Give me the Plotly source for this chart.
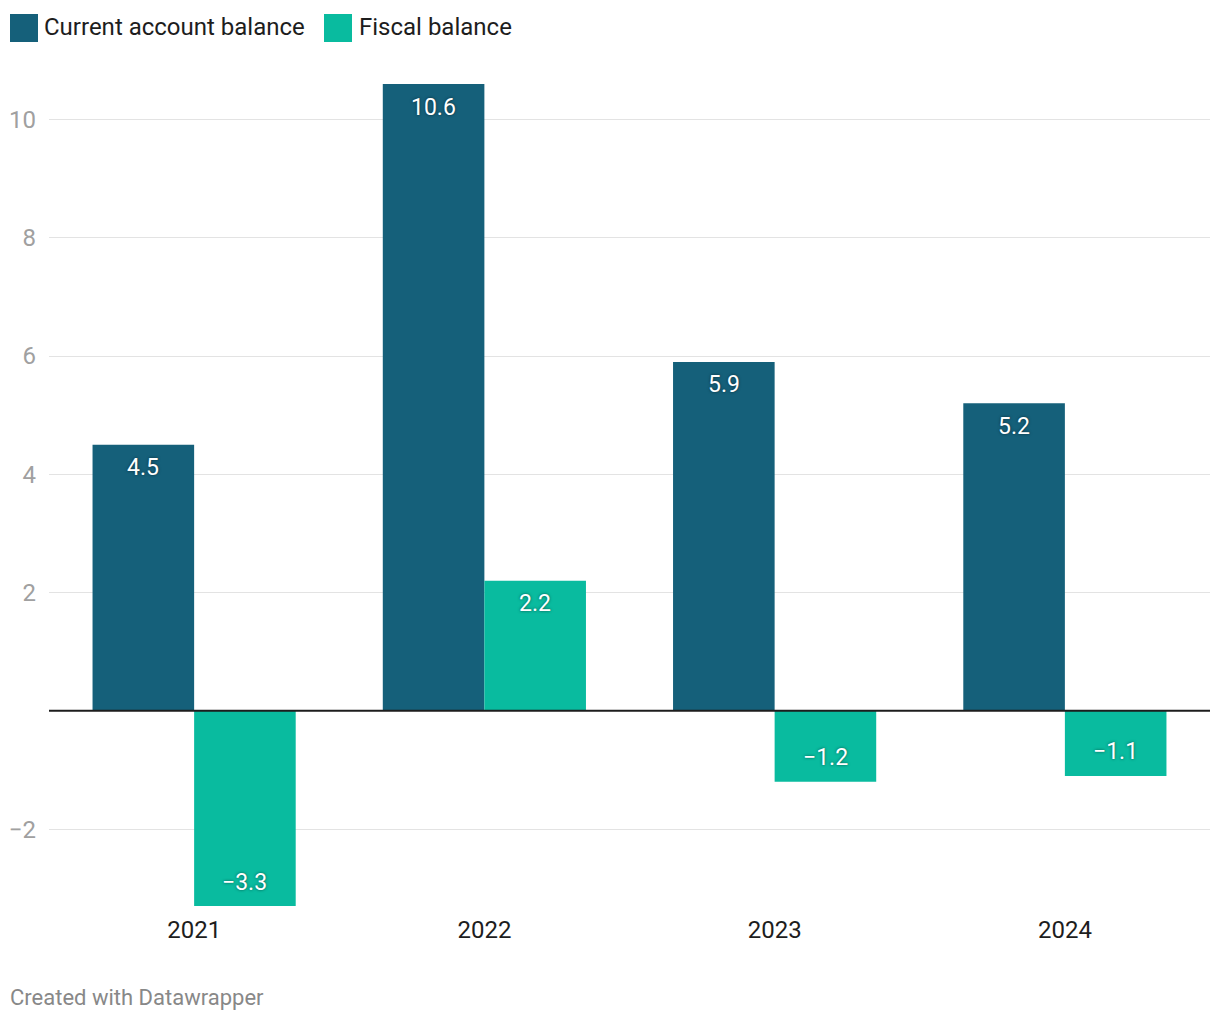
import plotly.graph_objects as go

years = ["2021", "2022", "2023", "2024"]
current_account = [4.5, 10.6, 5.9, 5.2]
fiscal = [-3.3, 2.2, -1.2, -1.1]
series_names = ["Current account balance", "Fiscal balance"]
colors = ["#15607a", "#09bb9f"]
y_ticks = [-2, 2, 4, 6, 8, 10]


def fmt(v):
    s = f"{v:.1f}"
    return s.replace("-", "\u2212")


W, H = 1220, 1020
ML, MR, MT, MB = 49, 10, 84, 114
PW, PH = W - ML - MR, H - MT - MB
BARGAP = 0.3
BAR_HALF = PW / len(years) * (1 - BARGAP) / 4


def px_x(p):
    return (p - ML) / PW


def px_y(p):
    return (H - MB - p) / PH


fig = go.Figure()
annotations = []
for i, (name, vals, col) in enumerate(zip(series_names, [current_account, fiscal], colors)):
    fig.add_trace(go.Bar(
        x=years, y=vals, name=name, marker=dict(color=col, line=dict(width=0)),
    ))
    for j, v in enumerate(vals):
        annotations.append(dict(
            x=j, y=v, xref="x", yref="y", text=fmt(v), showarrow=False,
            xshift=(-BAR_HALF if i == 0 else BAR_HALF),
            yshift=(-23 if v >= 0 else 24),
            xanchor="center", yanchor="middle",
            font=dict(color="white", size=23, family="Roboto",
                      shadow="0px 0px 3px rgba(0,0,0,0.55)"),
        ))

shapes = [dict(type="line", xref="paper", yref="y", x0=0, x1=1, y0=0, y1=0,
               line=dict(color="#1d1d1d", width=2), layer="above")]
# legend
leg = [(10, 44, series_names[0], colors[0]), (324, 359, series_names[1], colors[1])]
for sx, tx, name, col in leg:
    shapes.append(dict(type="rect", xref="paper", yref="paper",
                       x0=px_x(sx), x1=px_x(sx + 28), y0=px_y(42), y1=px_y(14),
                       fillcolor=col, line=dict(width=0)))
    annotations.append(dict(xref="paper", yref="paper", x=px_x(tx), y=px_y(27),
                            text=name, showarrow=False, xanchor="left", yanchor="middle",
                            xshift=-2,
                            font=dict(size=24, color="#1d1d1d", family="Roboto")))
annotations.append(dict(xref="paper", yref="paper", x=px_x(10), y=px_y(997),
                        text="Created with Datawrapper", showarrow=False,
                        xanchor="left", yanchor="middle", xshift=-2,
                        font=dict(size=22, color="#888888", family="Roboto")))

fig.update_layout(
    width=W, height=H,
    margin=dict(l=ML, r=MR, t=MT, b=MB, pad=0),
    paper_bgcolor="white", plot_bgcolor="white",
    barmode="group", bargap=BARGAP, bargroupgap=0,
    showlegend=False,
    font=dict(family="Roboto"),
    shapes=shapes, annotations=annotations,
    xaxis=dict(type="category", categoryorder="array", categoryarray=years,
               range=[-0.5, len(years) - 0.5],
               showgrid=False, zeroline=False, showline=False, ticks="",
               ticklabelstandoff=7,
               tickfont=dict(size=24, color="#1d1d1d", family="Roboto")),
    yaxis=dict(range=[-3.3, 10.6], tickvals=y_ticks, showgrid=True,
               gridcolor="#e3e3e3", gridwidth=1, zeroline=False, showline=False,
               ticks="", ticklabelstandoff=12,
               tickfont=dict(size=24, color="#a0a0a0", family="Roboto")),
)

fig.write_html("out.html", config={"displayModeBar": False},
               post_script="document.body.style.margin='0';document.body.style.padding='0';")
